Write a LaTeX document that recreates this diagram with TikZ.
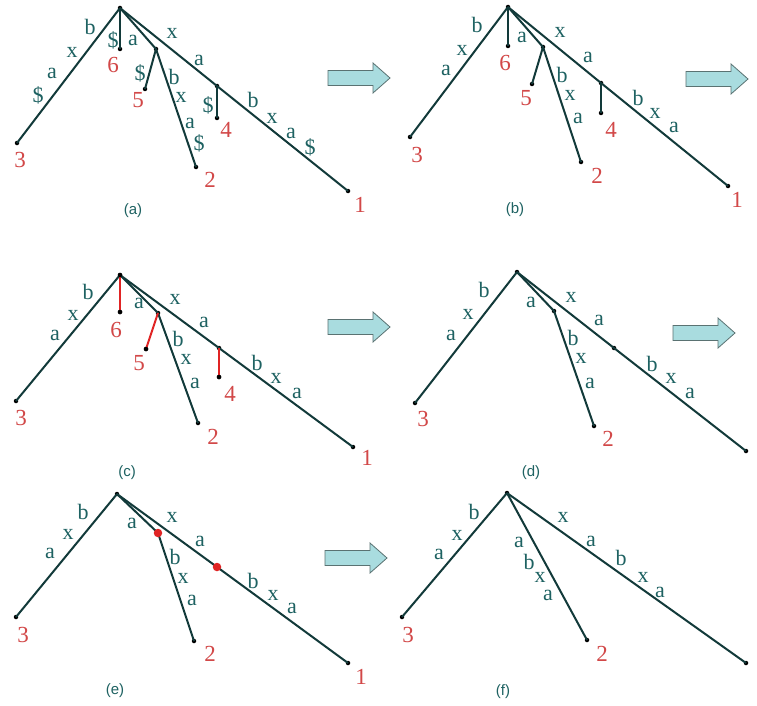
\documentclass[tikz,border=0pt]{standalone}
\usepackage{fontspec}
\setmainfont{Liberation Serif}
\newfontfamily\capfont{Liberation Sans}
\begin{document}
\begin{tikzpicture}[x=1pt,y=-1pt]
\definecolor{linec}{HTML}{123A3A}
\definecolor{lblc}{HTML}{1E6262}
\definecolor{numc}{HTML}{D24848}
\definecolor{redc}{HTML}{E02424}
\definecolor{arrf}{HTML}{A9DCDF}
\definecolor{arrd}{HTML}{5A7272}
\tikzset{
  edge/.style={line width=2pt, draw=linec},
  redge/.style={line width=2pt, draw=redc},
  lbl/.style={font=\fontsize{22}{22}\selectfont, text=lblc, inner sep=0pt},
  num/.style={font=\fontsize{23}{23}\selectfont, text=numc, inner sep=0pt},
  panelcap/.style={font=\capfont\fontsize{15}{15}\selectfont, text=lblc, inner sep=0pt},
  dot/.style={circle, fill=black, inner sep=0pt, minimum size=4.5pt},
  rdot/.style={circle, fill=redc, inner sep=0pt, minimum size=8.5pt},
  bigarrow/.style={fill=arrf, draw=arrd, line width=0.8pt, line join=miter}
}
\newcommand{\BigArrow}[3]{% left x, center y, name
  \path[bigarrow] (#1,#2-7.5) -- (#1+45,#2-7.5) -- (#1+45,#2-15) -- (#1+62,#2)
     -- (#1+45,#2+15) -- (#1+45,#2+7.5) -- (#1,#2+7.5) -- cycle;
  \coordinate (#3) at (#1+31,#2);
}
\useasboundingbox (0,0) rectangle (757,706);
\fill[white] (0,0) rectangle (757,706);

% ---------------- (a)
\node[dot] (aR) at (120,8) {};
\node[dot] (a3) at (17,143) {};
\node[dot] (a6) at (120,49) {};
\node[dot] (aI) at (156,49) {};
\node[dot] (a5) at (145,89) {};
\node[dot] (a2) at (196,167) {};
\node[dot] (aJ) at (217,86) {};
\node[dot] (a4) at (217,118) {};
\node[dot] (a1) at (348,191) {};
\draw[edge] (aR.center) -- (a3.center);
\draw[edge] (aR.center) -- (a6.center);
\draw[edge] (aR.center) -- (aI.center) -- (a2.center);
\draw[edge] (aI.center) -- (a5.center);
\draw[edge] (aR.center) -- (aJ.center) -- (a1.center);
\draw[edge] (aJ.center) -- (a4.center);
\node[lbl] (aL1) at (90,27) {b};
\node[lbl] (aL2) at (72,52) {x};
\node[lbl] (aL3) at (52,73) {a};
\node[lbl] (aL4) at (38,95) {\$};
\node[lbl] (aL5) at (113,40) {\$};
\node[lbl] (aL6) at (133,40) {a};
\node[lbl] (aL7) at (172,33) {x};
\node[lbl] (aL8) at (199,60) {a};
\node[lbl] (aL9) at (140,73) {\$};
\node[lbl] (aL10) at (174,77) {b};
\node[lbl] (aL11) at (181,97) {x};
\node[lbl] (aL12) at (190,123) {a};
\node[lbl] (aL13) at (199,143) {\$};
\node[lbl] (aL14) at (208,105) {\$};
\node[lbl] (aL15) at (253,100) {b};
\node[lbl] (aL16) at (272,118) {x};
\node[lbl] (aL17) at (291,133) {a};
\node[lbl] (aL18) at (310,147) {\$};
\node[num] (aN6) at (113,65) {6};
\node[num] (aN5) at (138,100) {5};
\node[num] (aN4) at (226,130) {4};
\node[num] (aN3) at (20,160) {3};
\node[num] (aN2) at (210,180) {2};
\node[num] (aN1) at (360,205) {1};
\node[panelcap] (aC) at (133,211) {(a)};
\BigArrow{328}{78}{arrA}

% ---------------- (b)
\node[dot] (bR) at (508,7) {};
\node[dot] (b3) at (410,137) {};
\node[dot] (b6) at (508,46) {};
\node[dot] (bI) at (543,47) {};
\node[dot] (b5) at (532,84) {};
\node[dot] (b2) at (581,162) {};
\node[dot] (bJ) at (601,83) {};
\node[dot] (b4) at (601,113) {};
\node[dot] (b1) at (728,186) {};
\draw[edge] (bR.center) -- (b3.center);
\draw[edge] (bR.center) -- (b6.center);
\draw[edge] (bR.center) -- (bI.center) -- (b2.center);
\draw[edge] (bI.center) -- (b5.center);
\draw[edge] (bR.center) -- (bJ.center) -- (b1.center);
\draw[edge] (bJ.center) -- (b4.center);
\node[lbl] (bL1) at (477,25) {b};
\node[lbl] (bL2) at (462,50) {x};
\node[lbl] (bL3) at (446,70) {a};
\node[lbl] (bL4) at (522,37) {a};
\node[lbl] (bL5) at (560,32) {x};
\node[lbl] (bL6) at (588,57) {a};
\node[lbl] (bL7) at (562,75) {b};
\node[lbl] (bL8) at (570,95) {x};
\node[lbl] (bL9) at (578,118) {a};
\node[lbl] (bL10) at (638,98) {b};
\node[lbl] (bL11) at (655,113) {x};
\node[lbl] (bL12) at (674,127) {a};
\node[num] (bN6) at (505,63) {6};
\node[num] (bN5) at (526,98) {5};
\node[num] (bN4) at (611,130) {4};
\node[num] (bN3) at (417,155) {3};
\node[num] (bN2) at (597,176) {2};
\node[num] (bN1) at (737,200) {1};
\node[panelcap] (bC) at (515,210) {(b)};
\BigArrow{686}{79}{arrB}

% ---------------- (c)
\node[dot] (cR) at (120,275) {};
\node[dot] (c3) at (16,401) {};
\node[dot] (c6) at (120,312) {};
\node[dot] (cI) at (158,313) {};
\node[dot] (c5) at (146,349) {};
\node[dot] (c2) at (198,423) {};
\node[dot] (cJ) at (219,348) {};
\node[dot] (c4) at (219,377) {};
\node[dot] (c1) at (353,447) {};
\draw[edge] (cR.center) -- (c3.center);
\draw[redge] (cR.center) -- (c6.center);
\draw[edge] (cR.center) -- (cI.center) -- (c2.center);
\draw[redge] (cI.center) -- (c5.center);
\draw[edge] (cR.center) -- (cJ.center) -- (c1.center);
\draw[redge] (cJ.center) -- (c4.center);
\node[dot] at (c6) {};
\node[dot] at (c5) {};
\node[dot] at (c4) {};
\node[dot] at (cR) {};
\node[lbl] (cL1) at (88,292) {b};
\node[lbl] (cL2) at (73,315) {x};
\node[lbl] (cL3) at (55,335) {a};
\node[lbl] (cL4) at (139,303) {a};
\node[lbl] (cL5) at (175,299) {x};
\node[lbl] (cL6) at (204,322) {a};
\node[lbl] (cL7) at (178,339) {b};
\node[lbl] (cL8) at (186,359) {x};
\node[lbl] (cL9) at (195,383) {a};
\node[lbl] (cL10) at (257,363) {b};
\node[lbl] (cL11) at (276,378) {x};
\node[lbl] (cL12) at (297,393) {a};
\node[num] (cN6) at (116,330) {6};
\node[num] (cN5) at (139,363) {5};
\node[num] (cN4) at (230,394) {4};
\node[num] (cN3) at (21,418) {3};
\node[num] (cN2) at (213,437) {2};
\node[num] (cN1) at (367,458) {1};
\node[panelcap] (cC) at (127,473) {(c)};
\BigArrow{328}{327}{arrC}

% ---------------- (d)
\node[dot] (dR) at (517,272) {};
\node[dot] (d3) at (415,403) {};
\node[dot] (dI) at (554,311) {};
\node[dot] (d2) at (594,426) {};
\node[dot] (dJ) at (614,348) {};
\node[dot] (d1) at (746,451) {};
\draw[edge] (dR.center) -- (d3.center);
\draw[edge] (dR.center) -- (dI.center) -- (d2.center);
\draw[edge] (dR.center) -- (dJ.center) -- (d1.center);
\node[lbl] (dL1) at (484,290) {b};
\node[lbl] (dL2) at (468,314) {x};
\node[lbl] (dL3) at (451,335) {a};
\node[lbl] (dL4) at (531,302) {a};
\node[lbl] (dL5) at (571,297) {x};
\node[lbl] (dL6) at (599,320) {a};
\node[lbl] (dL7) at (573,338) {b};
\node[lbl] (dL8) at (581,358) {x};
\node[lbl] (dL9) at (590,383) {a};
\node[lbl] (dL10) at (652,364) {b};
\node[lbl] (dL11) at (671,378) {x};
\node[lbl] (dL12) at (690,393) {a};
\node[num] (dN3) at (423,419) {3};
\node[num] (dN2) at (608,439) {2};
\node[panelcap] (dC) at (531,473) {(d)};
\BigArrow{673}{333}{arrD}

% ---------------- (e)
\node[dot] (eR) at (117,494) {};
\node[dot] (e3) at (16,617) {};
\coordinate (eI) at (158,533);
\node[dot] (e2) at (194,641) {};
\coordinate (eJ) at (217,567);
\node[dot] (e1) at (348,663) {};
\draw[edge] (eR.center) -- (e3.center);
\draw[edge] (eR.center) -- (eI) -- (e2.center);
\draw[edge] (eR.center) -- (eJ) -- (e1.center);
\node[rdot] (eIdot) at (eI) {};
\node[rdot] (eJdot) at (eJ) {};
\node[lbl] (eL1) at (83,512) {b};
\node[lbl] (eL2) at (68,534) {x};
\node[lbl] (eL3) at (50,553) {a};
\node[lbl] (eL4) at (132,523) {a};
\node[lbl] (eL5) at (172,517) {x};
\node[lbl] (eL6) at (200,541) {a};
\node[lbl] (eL7) at (175,557) {b};
\node[lbl] (eL8) at (183,578) {x};
\node[lbl] (eL9) at (192,600) {a};
\node[lbl] (eL10) at (253,581) {b};
\node[lbl] (eL11) at (273,595) {x};
\node[lbl] (eL12) at (292,608) {a};
\node[num] (eN3) at (23,635) {3};
\node[num] (eN2) at (210,654) {2};
\node[num] (eN1) at (361,677) {1};
\node[panelcap] (eC) at (115,691) {(e)};
\BigArrow{325}{558}{arrE}

% ---------------- (f)
\node[dot] (fR) at (507,493) {};
\node[dot] (f3) at (402,617) {};
\node[dot] (f2) at (587,640) {};
\node[dot] (f1) at (746,663) {};
\draw[edge] (fR.center) -- (f3.center);
\draw[edge] (fR.center) -- (f2.center);
\draw[edge] (fR.center) -- (f1.center);
\node[lbl] (fL1) at (474,512) {b};
\node[lbl] (fL2) at (457,535) {x};
\node[lbl] (fL3) at (439,554) {a};
\node[lbl] (fL4) at (519,542) {a};
\node[lbl] (fL5) at (529,562) {b};
\node[lbl] (fL6) at (540,577) {x};
\node[lbl] (fL7) at (548,595) {a};
\node[lbl] (fL8) at (563,517) {x};
\node[lbl] (fL9) at (591,541) {a};
\node[lbl] (fL10) at (621,558) {b};
\node[lbl] (fL11) at (643,577) {x};
\node[lbl] (fL12) at (660,592) {a};
\node[num] (fN3) at (408,635) {3};
\node[num] (fN2) at (602,654) {2};
\node[panelcap] (fC) at (503,692) {(f)};
\end{tikzpicture}
\end{document}
